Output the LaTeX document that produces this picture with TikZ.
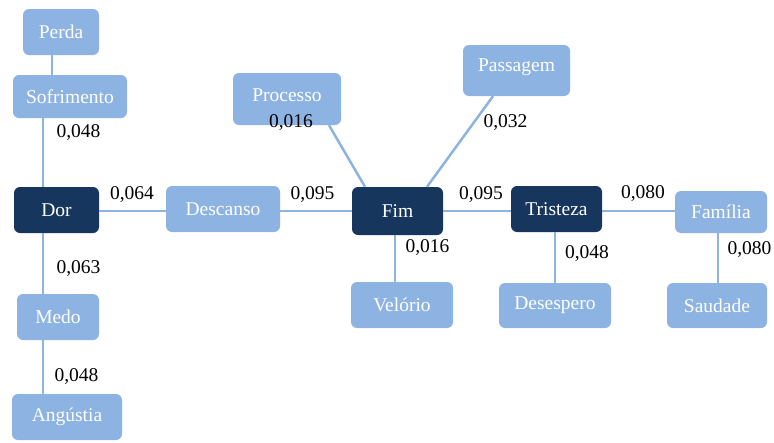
\documentclass[tikz,border=0pt]{standalone}
\usepackage{fontspec}
\setmainfont{Liberation Serif}
\newfontfamily\tnr{Liberation Serif}
\definecolor{lb}{HTML}{8DB3E2}
\definecolor{db}{HTML}{17365D}
\definecolor{ln}{HTML}{8DB3E2}
\begin{document}
\begin{tikzpicture}[x=1pt,y=-1pt,
  box/.style={rounded corners=6pt, inner sep=0pt, text=white, font=\tnr\fontsize{19.5}{22}\selectfont},
  lbox/.style={box, fill=lb},
  dbox/.style={box, fill=db},
  wt/.style={font=\tnr\fontsize{19.5}{22}\selectfont, inner sep=0pt, text=black},
  btxt/.style={font=\tnr\fontsize{19.5}{22}\selectfont, inner sep=0pt, text=white},
  edge/.style={draw=ln, line width=2.5pt}]
\useasboundingbox (0,0) rectangle (774,442);
% boxes
\node[lbox, minimum width=76pt, minimum height=46pt] (perda) at (61,32) {Perda};
\node[lbox, minimum width=114pt, minimum height=43pt] (sofr) at (70,96.5) {Sofrimento};
\node[dbox, minimum width=85pt, minimum height=46pt] (dor) at (56.5,210) {Dor};
\node[lbox, minimum width=82pt, minimum height=46pt] (medo) at (58,317) {Medo};
\node[lbox, minimum width=110pt, minimum height=46pt] (ang) at (67,417) {Angústia};
\node[lbox, minimum width=114pt, minimum height=46pt] (desc) at (223,209) {Descanso};
\node[lbox, minimum width=108pt, minimum height=52pt] (proc) at (287,99) {};
\node[btxt] (proct) at (287,95) {Processo};
\node[dbox, minimum width=91pt, minimum height=48pt] (fim) at (397.5,211) {Fim};
\node[lbox, minimum width=107pt, minimum height=51pt] (pass) at (516.5,70.5) {};
\node[btxt] (passt) at (516.5,67) {Passagem};
\node[lbox, minimum width=102pt, minimum height=46pt] (vel) at (402,305) {Velório};
\node[dbox, minimum width=91pt, minimum height=46pt] (tri) at (556.5,209) {Tristeza};
\node[lbox, minimum width=112pt, minimum height=45pt] (des) at (555,305.5) {Desespero};
\node[lbox, minimum width=92pt, minimum height=42pt] (fam) at (721,212) {Família};
\node[lbox, minimum width=100pt, minimum height=45pt] (sau) at (717,305.5) {Saudade};
% helper coordinates
\coordinate (cA) at (52,0);
\coordinate (cB) at (43,0);
\coordinate (hy) at (0,211);
\coordinate (p1) at (329,0);
\coordinate (p2) at (365,0);
\coordinate (q1) at (493,0);
\coordinate (q2) at (427,0);
\coordinate (vx) at (395,0);
\coordinate (dx) at (555,0);
\coordinate (sx) at (718,0);
% connectors
\draw[edge] (perda.south -| cA) -- (sofr.north -| cA);
\draw[edge] (sofr.south -| cB) -- (dor.north -| cB);
\draw[edge] (dor.south -| cB) -- (medo.north -| cB);
\draw[edge] (medo.south -| cB) -- (ang.north -| cB);
\draw[edge] (dor.east |- hy) -- (desc.west |- hy);
\draw[edge] (desc.east |- hy) -- (fim.west |- hy);
\draw[edge] (fim.east |- hy) -- (tri.west |- hy);
\draw[edge] (tri.east |- hy) -- (fam.west |- hy);
\draw[edge] (proc.south -| p1) -- (fim.north -| p2);
\draw[edge] (pass.south -| q1) -- (fim.north -| q2);
\draw[edge] (fim.south -| vx) -- (vel.north -| vx);
\draw[edge] (tri.south -| dx) -- (des.north -| dx);
\draw[edge] (fam.south -| sx) -- (sau.north -| sx);
% weights
\node[wt] (w1) at (78.5,133) {0,048};
\node[wt] (w2) at (132,195) {0,064};
\node[wt] (w3) at (78.5,269) {0,063};
\node[wt] (w4) at (76.5,377) {0,048};
\node[wt] (w5) at (291,123) {0,016};
\node[wt] (w6) at (312.5,195) {0,095};
\node[wt] (w7) at (427.5,248) {0,016};
\node[wt] (w8) at (505.5,123) {0,032};
\node[wt] (w9) at (481,195) {0,095};
\node[wt] (w10) at (643,194) {0,080};
\node[wt] (w11) at (587,254) {0,048};
\node[wt] (w12) at (749.5,250) {0,080};
\end{tikzpicture}
\end{document}
